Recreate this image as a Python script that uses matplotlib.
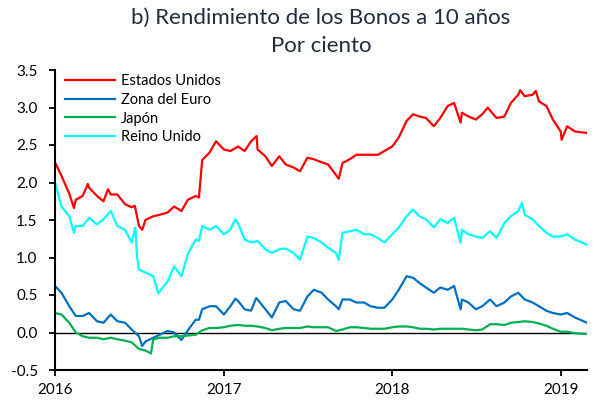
import numpy as np
import pandas as pd
import matplotlib
matplotlib.use("Agg")
import matplotlib.pyplot as plt
import matplotlib.dates as mdates

# ---------------------------------------------------------------------------
# Datos (rendimientos a 10 años, %)
# rejilla: días 1 y 15 de cada mes + último dato; *_picos = máximos/mínimos
# ---------------------------------------------------------------------------
fechas = list(pd.date_range("2016-01-01", "2019-02-01", freq="SMS")) + [pd.Timestamp("2019-02-27")]

estados_unidos = [
    2.27, 2.09, 1.85, 1.77, 1.82, 1.93, 1.82, 1.75, 1.84, 1.84, 1.71, 1.67,
    1.42, 1.50, 1.55, 1.57, 1.60, 1.68, 1.62, 1.77, 1.82, 2.30, 2.40, 2.55,
    2.44, 2.42, 2.48, 2.42, 2.55, 2.44, 2.35, 2.22, 2.35, 2.24, 2.20, 2.15,
    2.33, 2.31, 2.27, 2.24, 2.10, 2.26, 2.31, 2.37, 2.37, 2.37, 2.37, 2.42,
    2.48, 2.60, 2.82, 2.91, 2.88, 2.86, 2.75, 2.86, 3.02, 3.06, 2.93, 2.88,
    2.84, 2.91, 2.96, 2.86, 2.88, 3.06, 3.17, 3.15, 3.17, 3.08, 3.02, 2.84,
    2.68, 2.75, 2.68, 2.66,
]
zona_euro = [
    0.62, 0.53, 0.35, 0.22, 0.22, 0.26, 0.15, 0.13, 0.24, 0.15, 0.13, 0.04,
    -0.05, -0.12, -0.07, -0.03, 0.02, 0.00, -0.10, 0.03, 0.17, 0.31, 0.35, 0.35,
    0.24, 0.35, 0.42, 0.31, 0.29, 0.44, 0.31, 0.20, 0.40, 0.42, 0.31, 0.29,
    0.48, 0.57, 0.53, 0.44, 0.35, 0.44, 0.44, 0.40, 0.40, 0.35, 0.33, 0.33,
    0.44, 0.57, 0.75, 0.73, 0.66, 0.60, 0.53, 0.60, 0.57, 0.62, 0.44, 0.40,
    0.31, 0.35, 0.44, 0.35, 0.40, 0.48, 0.53, 0.44, 0.40, 0.35, 0.29, 0.26,
    0.24, 0.26, 0.20, 0.13,
]
japon = [
    0.26, 0.24, 0.13, 0.00, -0.05, -0.07, -0.07, -0.09, -0.07, -0.09, -0.11, -0.13,
    -0.22, -0.24, -0.09, -0.07, -0.07, -0.05, -0.05, -0.04, -0.03, 0.03, 0.06, 0.06,
    0.07, 0.09, 0.10, 0.09, 0.09, 0.08, 0.06, 0.03, 0.05, 0.06, 0.06, 0.06,
    0.08, 0.07, 0.07, 0.07, 0.02, 0.04, 0.07, 0.07, 0.06, 0.05, 0.05, 0.05,
    0.07, 0.08, 0.08, 0.07, 0.05, 0.05, 0.04, 0.05, 0.05, 0.05, 0.05, 0.04,
    0.03, 0.04, 0.11, 0.11, 0.10, 0.13, 0.14, 0.15, 0.14, 0.12, 0.09, 0.05,
    0.01, 0.01, -0.01, -0.02,
]
reino_unido = [
    2.00, 1.68, 1.55, 1.42, 1.42, 1.53, 1.44, 1.51, 1.62, 1.42, 1.37, 1.20,
    0.84, 0.80, 0.75, 0.55, 0.68, 0.88, 0.75, 1.05, 1.24, 1.42, 1.37, 1.42,
    1.31, 1.37, 1.45, 1.24, 1.20, 1.22, 1.11, 1.06, 1.11, 1.12, 1.06, 0.97,
    1.28, 1.26, 1.20, 1.13, 1.06, 1.33, 1.35, 1.37, 1.31, 1.31, 1.26, 1.20,
    1.31, 1.40, 1.55, 1.64, 1.55, 1.51, 1.40, 1.51, 1.46, 1.53, 1.37, 1.31,
    1.28, 1.26, 1.35, 1.26, 1.46, 1.55, 1.62, 1.57, 1.51, 1.42, 1.33, 1.28,
    1.28, 1.31, 1.24, 1.17,
]

estados_unidos_picos = {
    "2016-02-11": 1.66, "2016-03-12": 1.98, "2016-04-25": 1.91, "2016-06-22": 1.69,
    "2016-07-08": 1.37, "2016-11-08": 1.80, "2017-03-13": 2.62, "2017-09-07": 2.05,
    "2018-05-29": 2.80, "2018-07-27": 3.00, "2018-10-05": 3.23, "2018-11-08": 3.22,
    "2019-01-03": 2.57,
}
zona_euro_picos = {
    "2016-07-08": -0.18, "2016-11-08": 0.17, "2017-01-26": 0.45, "2017-03-12": 0.46,
    "2017-09-07": 0.31, "2018-05-29": 0.31,
}
japon_picos = {
    "2016-07-27": -0.28,
}
reino_unido_picos = {
    "2016-02-11": 1.33, "2016-06-23": 1.40, "2016-06-27": 1.00, "2016-08-12": 0.52,
    "2016-11-08": 1.22, "2017-01-26": 1.51, "2017-09-07": 0.97, "2018-05-29": 1.20,
    "2018-10-09": 1.73,
}

series = [
    ("Estados Unidos", estados_unidos, estados_unidos_picos, "#FF0000"),
    ("Zona del Euro", zona_euro, zona_euro_picos, "#0070C0"),
    ("Japón", japon, japon_picos, "#00B050"),
    ("Reino Unido", reino_unido, reino_unido_picos, "#00FFFF"),
]

FONT = "Lato"
plt.rcParams["font.family"] = [FONT, "DejaVu Sans"]

fig = plt.figure(figsize=(5.95, 4.0), dpi=100)
ax = fig.add_axes([55 / 595, 1 - 370 / 400, (587 - 55) / 595, 300 / 400])

ax.axhline(0, color="black", lw=1.0, zorder=1)
for nombre, valores, picos, color in series:
    s = pd.concat([pd.Series(valores, index=fechas),
                   pd.Series(list(picos.values()), index=pd.to_datetime(list(picos.keys())))])
    s = s.sort_index()
    ax.plot(s.index, s.values, color=color, lw=1.6, label=nombre, zorder=2)

ax.set_xlim(fechas[0], fechas[-1])
ax.set_ylim(-0.5, 3.5)
ax.set_yticks(np.arange(-0.5, 3.51, 0.5))
ax.yaxis.set_major_formatter(matplotlib.ticker.FormatStrFormatter("%.1f"))
ax.xaxis.set_major_locator(mdates.YearLocator())
ax.xaxis.set_major_formatter(mdates.DateFormatter("%Y"))

for side in ("top", "right"):
    ax.spines[side].set_visible(False)
for side in ("left", "bottom"):
    ax.spines[side].set_linewidth(1.5)
ax.tick_params(axis="both", direction="out", length=4.5, width=1.3, labelsize=11)
ax.tick_params(axis="y", pad=8)
ax.tick_params(axis="x", pad=5)

ax.legend(loc="upper left", bbox_to_anchor=(0.0, 1.02), frameon=False,
          fontsize=10.5, handlelength=3.4, handletextpad=0.4,
          labelspacing=0.32, borderaxespad=0.3)

fig.text(0.5395, 1 - 18 / 400, "b) Rendimiento de los Bonos a 10 años",
         ha="center", va="center", fontsize=16, color="#1F2D3D")
fig.text(0.5395, 1 - 46 / 400, "Por ciento",
         ha="center", va="center", fontsize=16, color="#1F2D3D")

fig.savefig("out.png", dpi=100)
